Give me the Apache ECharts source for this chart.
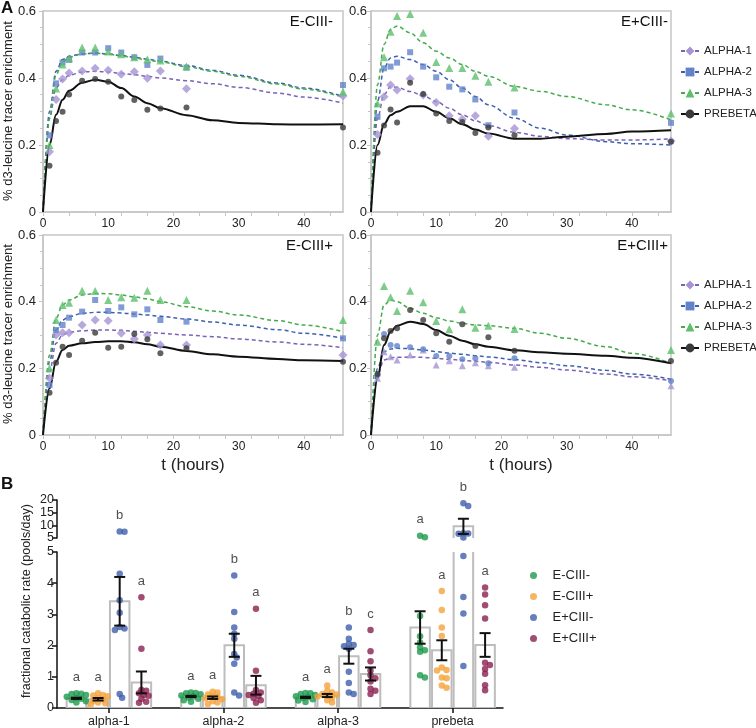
<!DOCTYPE html>
<html>
<head>
<meta charset="utf-8">
<script src="https://cdn.jsdelivr.net/npm/echarts@6/dist/echarts.min.js"></script>
<style>
  html, body { margin: 0; background: #fff; }
  #chart { width: 756px; height: 728px; }
</style>
</head>
<body>
<div id="chart"></div>
<script>
// ---- panel A: tracer enrichment curves ----
const hoursObserved = [1, 2, 3, 4, 6, 8, 10, 12, 14, 16, 18, 22, 46]
const hoursFitted = [0, 1, 2, 3, 4, 6, 8, 10, 12, 14, 16, 18, 22, 26, 30, 36, 40, 46]
const fractionNames = ['ALPHA-1', 'ALPHA-2', 'ALPHA-3', 'PREBETA']
const panelTitles = ['E-CIII-', 'E+CIII-', 'E-CIII+', 'E+CIII+']

// E-CIII-
const emcmAlpha1 = [0.18, 0.336, 0.397, 0.415, 0.421, 0.429, 0.423, 0.411, 0.419, 0.399, 0.421, 0.368, 0.346]
const emcmAlpha2 = [0.229, 0.384, 0.446, 0.454, 0.476, 0.476, 0.489, 0.476, 0.462, 0.439, 0.458, 0.431, 0.379]
const emcmAlpha3 = [0.2, 0.369, 0.44, 0.459, 0.491, 0.491, 0.479, 0.471, 0.462, 0.456, 0.452, 0.434, 0.359]
const emcmPrebeta = [0.138, 0.272, 0.299, 0.351, 0.392, 0.397, 0.389, 0.345, 0.334, 0.305, 0.309, 0.312, 0.252]
const emcmAlpha1Fit = [0, 0.28, 0.37, 0.395, 0.408, 0.418, 0.42, 0.418, 0.414, 0.41, 0.405, 0.4, 0.392, 0.383, 0.372, 0.355, 0.343, 0.325]
const emcmAlpha2Fit = [0, 0.3, 0.42, 0.455, 0.465, 0.472, 0.474, 0.472, 0.467, 0.462, 0.456, 0.45, 0.437, 0.423, 0.408, 0.385, 0.37, 0.345]
const emcmAlpha3Fit = [0, 0.28, 0.41, 0.448, 0.462, 0.472, 0.474, 0.471, 0.466, 0.46, 0.454, 0.448, 0.434, 0.42, 0.405, 0.382, 0.367, 0.342]
const emcmPrebetaFit = [0, 0.2, 0.29, 0.335, 0.362, 0.386, 0.395, 0.389, 0.37, 0.345, 0.325, 0.31, 0.289, 0.274, 0.266, 0.262, 0.261, 0.262]

// E+CIII-
const epcmAlpha1 = [0.231, 0.344, 0.379, 0.364, 0.398, 0.349, 0.327, 0.287, 0.277, 0.287, 0.226, 0.249, 0.212]
const epcmAlpha2 = [0.284, 0.429, 0.434, 0.446, 0.477, 0.434, 0.402, 0.374, 0.366, 0.336, 0.259, 0.297, 0.266]
const epcmAlpha3 = [0.324, 0.462, 0.538, 0.585, 0.591, 0.535, 0.448, 0.43, 0.43, 0.407, 0.389, 0.372, 0.294]
const epcmPrebeta = [0.177, 0.258, 0.306, 0.267, 0.386, 0.352, 0.294, 0.272, 0.269, 0.236, 0.252, 0.229, 0.21]
const epcmAlpha1Fit = [0, 0.28, 0.35, 0.375, 0.372, 0.36, 0.347, 0.33, 0.31, 0.29, 0.272, 0.258, 0.238, 0.226, 0.219, 0.215, 0.215, 0.218]
const epcmAlpha2Fit = [0, 0.33, 0.43, 0.46, 0.465, 0.455, 0.44, 0.42, 0.395, 0.37, 0.345, 0.32, 0.28, 0.25, 0.23, 0.21, 0.204, 0.2]
const epcmAlpha3Fit = [0, 0.38, 0.5, 0.545, 0.555, 0.535, 0.505, 0.48, 0.46, 0.44, 0.42, 0.405, 0.375, 0.36, 0.345, 0.32, 0.305, 0.275]
const epcmPrebetaFit = [0, 0.2, 0.262, 0.289, 0.299, 0.316, 0.316, 0.299, 0.28, 0.262, 0.246, 0.234, 0.219, 0.219, 0.225, 0.233, 0.24, 0.244]

// E-CIII+
const emcpAlpha1 = [0.17, 0.3, 0.307, 0.307, 0.33, 0.345, 0.343, 0.305, 0.288, 0.3, 0.27, 0.27, 0.24]
const emcpAlpha2 = [0.15, 0.315, 0.33, 0.352, 0.37, 0.405, 0.372, 0.383, 0.362, 0.377, 0.345, 0.34, 0.29]
const emcpAlpha3 = [0.2, 0.345, 0.39, 0.397, 0.433, 0.432, 0.405, 0.413, 0.412, 0.433, 0.405, 0.405, 0.345]
const emcpPrebeta = [0.127, 0.217, 0.265, 0.24, 0.283, 0.307, 0.262, 0.265, 0.303, 0.287, 0.245, 0.26, 0.22]
const emcpAlpha1Fit = [0, 0.19, 0.275, 0.3, 0.308, 0.313, 0.315, 0.315, 0.314, 0.311, 0.308, 0.305, 0.3, 0.295, 0.288, 0.279, 0.272, 0.262]
const emcpAlpha2Fit = [0, 0.22, 0.315, 0.345, 0.355, 0.365, 0.368, 0.368, 0.366, 0.363, 0.36, 0.356, 0.348, 0.339, 0.33, 0.316, 0.305, 0.29]
const emcpAlpha3Fit = [0, 0.24, 0.35, 0.39, 0.405, 0.42, 0.425, 0.424, 0.42, 0.414, 0.408, 0.4, 0.385, 0.372, 0.36, 0.343, 0.33, 0.31]
const emcpPrebetaFit = [0, 0.14, 0.22, 0.255, 0.268, 0.275, 0.279, 0.281, 0.281, 0.278, 0.272, 0.265, 0.252, 0.242, 0.235, 0.228, 0.224, 0.222]

// E+CIII+
const epcpAlpha1 = [0.17, 0.25, 0.235, 0.225, 0.24, 0.255, 0.21, 0.223, 0.208, 0.217, 0.208, 0.203, 0.148]
const epcpAlpha2 = [0.18, 0.303, 0.27, 0.267, 0.263, 0.257, 0.237, 0.237, 0.227, 0.23, 0.215, 0.23, 0.162]
const epcpAlpha3 = [0.28, 0.447, 0.413, 0.372, 0.433, 0.398, 0.342, 0.317, 0.377, 0.322, 0.328, 0.318, 0.255]
const epcpPrebeta = [0.183, 0.29, 0.312, 0.32, 0.375, 0.345, 0.305, 0.28, 0.332, 0.267, 0.293, 0.253, 0.222]
const epcpAlpha1Fit = [0, 0.18, 0.225, 0.232, 0.233, 0.234, 0.233, 0.23, 0.227, 0.224, 0.221, 0.218, 0.21, 0.203, 0.195, 0.183, 0.175, 0.163]
const epcpAlpha2Fit = [0, 0.2, 0.25, 0.258, 0.26, 0.259, 0.255, 0.25, 0.246, 0.242, 0.238, 0.234, 0.226, 0.217, 0.208, 0.194, 0.183, 0.167]
const epcpAlpha3Fit = [0, 0.3, 0.39, 0.405, 0.4, 0.38, 0.365, 0.352, 0.342, 0.335, 0.33, 0.328, 0.32, 0.305, 0.29, 0.265, 0.245, 0.215]
const epcpPrebetaFit = [0, 0.17, 0.27, 0.31, 0.328, 0.34, 0.333, 0.315, 0.298, 0.283, 0.272, 0.265, 0.254, 0.248, 0.244, 0.238, 0.232, 0.215]

// ---- panel B: fractional catabolic rate ----
const fcrCategories = ['alpha-1', 'alpha-2', 'alpha-3', 'prebeta']
const fcrGroups = ['E-CIII-', 'E-CIII+', 'E+CIII-', 'E+CIII+']
const fcrUpperTicks = [5, 10, 15, 20]

const fcrEmcm = [
  [0.47, 0.46, 0.45, 0.42, 0.36, 0.33, 0.3, 0.26, 0.22, 0.18],
  [0.5, 0.48, 0.47, 0.44, 0.4, 0.37, 0.34, 0.3, 0.25, 0.2],
  [0.48, 0.47, 0.45, 0.42, 0.38, 0.35, 0.32, 0.28, 0.24, 0.19],
  [5.9, 5.3, 2.95, 2.3, 2.1, 1.95, 1.85, 1.8, 1.05, 0.98]
]
const fcrEmcp = [
  [0.47, 0.42, 0.4, 0.38, 0.32, 0.28, 0.23, 0.18, 0.15, 0.12],
  [0.52, 0.5, 0.43, 0.38, 0.35, 0.31, 0.28, 0.22, 0.18, 0.13],
  [0.72, 0.55, 0.5, 0.45, 0.43, 0.4, 0.37, 0.33, 0.25, 0.18],
  [3.75, 3.14, 2.58, 2.31, 1.3, 1.22, 1.2, 0.98, 0.95, 0.72, 0.65]
]
const fcrEpcm = [
  [7.6, 7.5, 4.3, 3.45, 3.05, 2.6, 2.5, 2.55, 0.33, 0.45],
  [4.25, 3.08, 2.58, 2.38, 2.22, 1.73, 1.62, 1.42, 0.4, 0.5],
  [2.58, 2.22, 2.06, 2.02, 1.98, 1.9, 1.16, 0.8, 0.45, 0.5],
  [18.7, 17.6, 6.9, 6.8, 6.7, 5.2, 4.87, 3.56, 3.03, 1.35]
]
const fcrEpcp = [
  [3.55, 1.9, 0.58, 0.55, 0.47, 0.42, 0.39, 0.3, 0.2, 0.17],
  [3.18, 1.19, 0.58, 0.5, 0.46, 0.42, 0.38, 0.32, 0.25, 0.17],
  [2.5, 1.82, 1.5, 1.2, 1.05, 0.95, 0.85, 0.62, 0.55, 0.45],
  [3.86, 3.64, 3.29, 2.87, 1.45, 1.38, 1.25, 1.1, 0.73, 0.57]
]
const fcrMean = [
  [0.31, 0.37, 0.34, 2.58],
  [0.28, 0.33, 0.4, 1.85],
  [3.42, 2.01, 1.66, 9.6],
  [0.82, 0.73, 1.09, 2.02]
]
const fcrSem = [
  [0.02, 0.02, 0.02, 0.52],
  [0.04, 0.04, 0.05, 0.32],
  [0.78, 0.37, 0.24, 3.0],
  [0.35, 0.3, 0.21, 0.38]
]
const fcrLetters = [
  ['a', 'a', 'a', 'a'],
  ['a', 'a', 'a', 'a'],
  ['b', 'b', 'b', 'b'],
  ['a', 'a', 'c', 'a']
]

// ---- styling ----
const FONT = '"Liberation Sans", Arial, sans-serif'
const fractionStyles = [
  {symbol: 'diamond', size: 9, mark: '#a693d4', line: '#7b62b8', type: [4, 3], width: 1.5},
  {symbol: 'rect', size: 6, mark: '#6282c9', line: '#3d60b0', type: [4, 3], width: 1.5},
  {symbol: 'triangle', size: 8, mark: '#5dbf6d', line: '#44aa4c', type: [4, 3], width: 1.5},
  {symbol: 'circle', size: 6, mark: '#3a3a3a', line: '#111', type: 'solid', width: 2}
]
// the last panel uses different markers for alpha-1 / alpha-2
const symbolOverride = {3: {0: ['triangle', 7], 1: ['circle', 6]}}
const groupColors = ['#1b9a4c', '#f5a23a', '#3f5eab', '#8a1f50']

const gridsA = [
  {left: 43, top: 11, width: 300, height: 201},
  {left: 371, top: 11, width: 300, height: 201},
  {left: 43, top: 235, width: 300, height: 200},
  {left: 371, top: 235, width: 300, height: 200}
]
const axisGrey = '#c6c6c6'

const panelObs = [
  [emcmAlpha1, emcmAlpha2, emcmAlpha3, emcmPrebeta],
  [epcmAlpha1, epcmAlpha2, epcmAlpha3, epcmPrebeta],
  [emcpAlpha1, emcpAlpha2, emcpAlpha3, emcpPrebeta],
  [epcpAlpha1, epcpAlpha2, epcpAlpha3, epcpPrebeta]
]
const panelFit = [
  [emcmAlpha1Fit, emcmAlpha2Fit, emcmAlpha3Fit, emcmPrebetaFit],
  [epcmAlpha1Fit, epcmAlpha2Fit, epcmAlpha3Fit, epcmPrebetaFit],
  [emcpAlpha1Fit, emcpAlpha2Fit, emcpAlpha3Fit, emcpPrebetaFit],
  [epcpAlpha1Fit, epcpAlpha2Fit, epcpAlpha3Fit, epcpPrebetaFit]
]

const grids = gridsA.map(g => ({...g, show: true, borderColor: axisGrey, borderWidth: 1.5}))
const xAxes = []
const yAxes = []
const series = []

gridsA.forEach((g, i) => {
  xAxes.push({
    gridIndex: i, type: 'value', min: 0, max: 46,
    axisLine: {lineStyle: {color: axisGrey, width: 1.5}},
    axisTick: {customValues: [0, 4, 8, 12, 16, 20, 24, 28, 32, 36, 40, 44], length: 4, lineStyle: {color: axisGrey}},
    axisLabel: {customValues: [0, 10, 20, 30, 40], margin: 6, fontSize: 12, color: '#222'},
    splitLine: {show: false},
    name: i >= 2 ? 't (hours)' : '', nameLocation: 'middle', nameGap: 22,
    nameTextStyle: {fontSize: 17, color: '#222'}
  })
  yAxes.push({
    gridIndex: i, type: 'value', min: 0, max: 0.6, interval: 0.2,
    axisLine: {show: true, onZero: false, lineStyle: {color: axisGrey, width: 1.5}},
    axisTick: {show: true, length: 4, lineStyle: {color: axisGrey}},
    minorTick: {show: true, splitNumber: 4, length: 3, lineStyle: {color: axisGrey}},
    axisLabel: {margin: i % 2 ? 4 : 7, fontSize: 13, color: '#222', showMinLabel: true, showMaxLabel: true,
      formatter: v => v === 0 ? '0' : v.toFixed(1)},
    splitLine: {show: false}
  })

  fractionNames.forEach((name, k) => {
    const st = fractionStyles[k]
    const ov = (symbolOverride[i] || {})[k]
    series.push({
      type: 'scatter', name: name + ' data', xAxisIndex: i, yAxisIndex: i,
      symbol: ov ? ov[0] : st.symbol, symbolSize: ov ? ov[1] : st.size,
      itemStyle: {color: st.mark},
      data: hoursObserved.map((t, j) => [t, panelObs[i][k][j]]),
      z: 3
    })
    series.push({
      type: 'line', name, xAxisIndex: i, yAxisIndex: i,
      symbol: st.symbol, symbolSize: st.size + 1, showSymbol: false,
      smooth: 0.35, smoothMonotone: 'x',
      itemStyle: {color: st.mark},
      lineStyle: {color: st.line, type: st.type, width: st.width},
      data: hoursFitted.map((t, j) => [t, panelFit[i][k][j]]),
      z: 2
    })
  })
})

// ---- panel B: two grids for the broken y axis ----
const B_LEFT = 57, B_WIDTH = 446
const X_MIN = -0.453, X_MAX = 3.44
const PX_PER_CAT = B_WIDTH / (X_MAX - X_MIN)
const barOffsetPx = [-32.5, -10.8, 10.8, 32.5]
const BAR_W = 19.5 / PX_PER_CAT
const BREAK_AT = 5
const PX_LOW = 157 / 5, PX_HIGH = 38 / 15, BREAK_GAP = 14

grids.push({left: B_LEFT, top: 500, width: B_WIDTH, height: 38})
grids.push({left: B_LEFT, top: 552, width: B_WIDTH, height: 157})

xAxes.push({gridIndex: 4, type: 'value', min: X_MIN, max: X_MAX, show: false})
xAxes.push({
  gridIndex: 5, type: 'value', min: X_MIN, max: X_MAX,
  axisLine: {lineStyle: {color: '#111', width: 1.5}},
  axisTick: {customValues: [0, 1, 2, 3], length: 5, lineStyle: {color: '#111', width: 1.5}},
  axisLabel: {customValues: [0, 1, 2, 3], formatter: v => fcrCategories[Math.round(v)], margin: 7, fontSize: 12.5, color: '#222'},
  splitLine: {show: false}
})
const bAxisY = {
  position: 'left', offset: 0,
  axisLine: {show: true, onZero: false, lineStyle: {color: '#111', width: 1.5}},
  axisTick: {show: true, length: 5, lineStyle: {color: '#111', width: 1.5}},
  axisLabel: {margin: 3, fontSize: 12.5, color: '#222', showMinLabel: true, showMaxLabel: true},
  splitLine: {show: false}
}
// upper segment: labels split over two overlaid axes so the tight 5/10/15/20 labels are all kept
yAxes.push({gridIndex: 4, type: 'value', min: 5, max: 20, interval: 5, ...bAxisY,
  axisLabel: {...bAxisY.axisLabel, customValues: fcrUpperTicks.filter((v, i) => i % 2 === 0)}})
yAxes.push({gridIndex: 5, type: 'value', min: 0, max: 5, interval: 1, ...bAxisY})
yAxes.push({gridIndex: 4, type: 'value', min: 5, max: 20, interval: 5, ...bAxisY,
  axisLine: {show: false}, axisTick: {show: false},
  axisLabel: {...bAxisY.axisLabel, customValues: fcrUpperTicks.filter((v, i) => i % 2 === 1)}})

// simple beeswarm: spread dots sideways, allowing some overlap (in pixels)
const toPx = v => v <= BREAK_AT ? v * PX_LOW : BREAK_AT * PX_LOW + BREAK_GAP + (v - BREAK_AT) * PX_HIGH
function swarm(values) {
  const placed = []
  const offsets = new Array(values.length)
  const order = values.map((_, i) => i).sort((a, b) => values[b] - values[a])
  order.forEach(i => {
    const y = toPx(values[i])
    for (let k = 0; k < 40; k++) {
      const dx = k === 0 ? 0 : (k % 2 ? 1 : -1) * Math.ceil(k / 2) * 2.4
      if (placed.every(p => Math.hypot(p.x - dx, p.y - y) >= 4.2)) {
        placed.push({x: dx, y})
        offsets[i] = dx
        break
      }
    }
  })
  return offsets
}

const fcrValues = [fcrEmcm, fcrEmcp, fcrEpcm, fcrEpcp]
const barData = [[], []]
const errData = [[], []]
const letterData = [[], []]
const pick = v => v > BREAK_AT ? 0 : 1

fcrGroups.forEach((grp, s) => {
  const dots = [[], []]
  fcrCategories.forEach((cat, g) => {
    const vals = fcrValues[s][g]
    const offs = swarm(vals)
    const cx = g + barOffsetPx[s] / PX_PER_CAT
    vals.forEach((v, j) => dots[pick(v)].push([cx + offs[j] / PX_PER_CAT, v]))
    const mean = fcrMean[s][g], sem = fcrSem[s][g]
    barData[0].push([cx, mean])
    barData[1].push([cx, mean])
    errData[pick(mean)].push([cx, mean, sem])
    const top = Math.max(mean + sem, ...vals)
    letterData[pick(top)].push({value: [cx, top], letter: fcrLetters[s][g]})
  })
  ;[0, 1].forEach(h => series.push({
    type: 'scatter', name: grp, xAxisIndex: 4 + h, yAxisIndex: 4 + h,
    symbol: 'circle', symbolSize: 6.5, itemStyle: {color: groupColors[s]},
    data: dots[h], z: 4
  }))
})

const renderBar = (params, api) => {
  const x = api.value(0), m = api.value(1)
  const w = api.size([BAR_W, 0])[0]
  const a = api.coord([x, 0]), b = api.coord([x, m])
  return {
    type: 'rect',
    shape: {x: a[0] - w / 2, y: b[1], width: w, height: a[1] - b[1]},
    style: {fill: 'rgba(255,255,255,0)', stroke: '#bdbdbd', lineWidth: 2}
  }
}
const renderErr = (params, api) => {
  const x = api.value(0), m = api.value(1), e = api.value(2)
  const hi = api.coord([x, m + e]), lo = api.coord([x, m - e])
  const cap = 5.5
  const style = {stroke: '#111', lineWidth: 2}
  return {
    type: 'group',
    children: [
      {type: 'line', shape: {x1: hi[0], y1: hi[1], x2: lo[0], y2: lo[1]}, style},
      {type: 'line', shape: {x1: hi[0] - cap, y1: hi[1], x2: hi[0] + cap, y2: hi[1]}, style},
      {type: 'line', shape: {x1: lo[0] - cap, y1: lo[1], x2: lo[0] + cap, y2: lo[1]}, style}
    ]
  }
}

;[0, 1].forEach(h => {
  series.push({
    type: 'custom', xAxisIndex: 4 + h, yAxisIndex: 4 + h, clip: true,
    renderItem: renderBar, data: barData[h], z: 1, silent: true
  })
  series.push({
    type: 'custom', xAxisIndex: 4 + h, yAxisIndex: 4 + h,
    renderItem: renderErr, data: errData[h], z: 5, silent: true
  })
  series.push({
    type: 'scatter', xAxisIndex: 4 + h, yAxisIndex: 4 + h,
    symbolSize: 1, itemStyle: {color: 'rgba(0,0,0,0)'},
    label: {show: true, position: 'top', distance: 9, fontSize: 13, color: '#222', formatter: p => p.data.letter},
    data: letterData[h], z: 6, silent: true
  })
})

const legendA = top => ({
  data: fractionNames, orient: 'vertical', left: 675, top,
  itemWidth: 18, itemHeight: 11, itemGap: 9,
  textStyle: {fontSize: 11.5, color: '#222'}
})

const option = {
  animation: false,
  textStyle: {fontFamily: FONT},
  grid: grids,
  xAxis: xAxes,
  yAxis: yAxes,
  legend: [
    legendA(40),
    legendA(274),
    {
      data: fcrGroups, orient: 'vertical', left: 525, top: 564,
      icon: 'circle', itemWidth: 28, itemHeight: 7, itemGap: 8,
      textStyle: {fontSize: 13, color: '#222'}
    }
  ],
  graphic: [
    {type: 'text', x: 1, y: 0, style: {text: 'A', font: 'bold 17px ' + FONT, fill: '#111'}},
    {type: 'text', x: 1, y: 476, style: {text: 'B', font: 'bold 17px ' + FONT, fill: '#111'}},
    ...gridsA.map((g, i) => ({
      type: 'text', x: g.left + g.width - (i % 2 ? 3 : 10), y: g.top + 11,
      style: {text: panelTitles[i], align: 'right', verticalAlign: 'middle', font: '15px ' + FONT, fill: '#111'}
    })),
    ...[111, 334].map(y => ({
      type: 'text', x: 8, y, rotation: Math.PI / 2,
      style: {text: '% d3-leucine tracer enrichment', align: 'center', verticalAlign: 'middle', font: '13px ' + FONT, fill: '#222'}
    })),
    {
      type: 'text', x: 27, y: 601, rotation: Math.PI / 2,
      style: {text: 'fractional catabolic rate (pools/day)', align: 'center', verticalAlign: 'middle', font: '12.5px ' + FONT, fill: '#222'}
    }
  ],
  series
}

const chart = echarts.init(document.getElementById('chart'))
chart.setOption(option)
</script>
</body>
</html>
